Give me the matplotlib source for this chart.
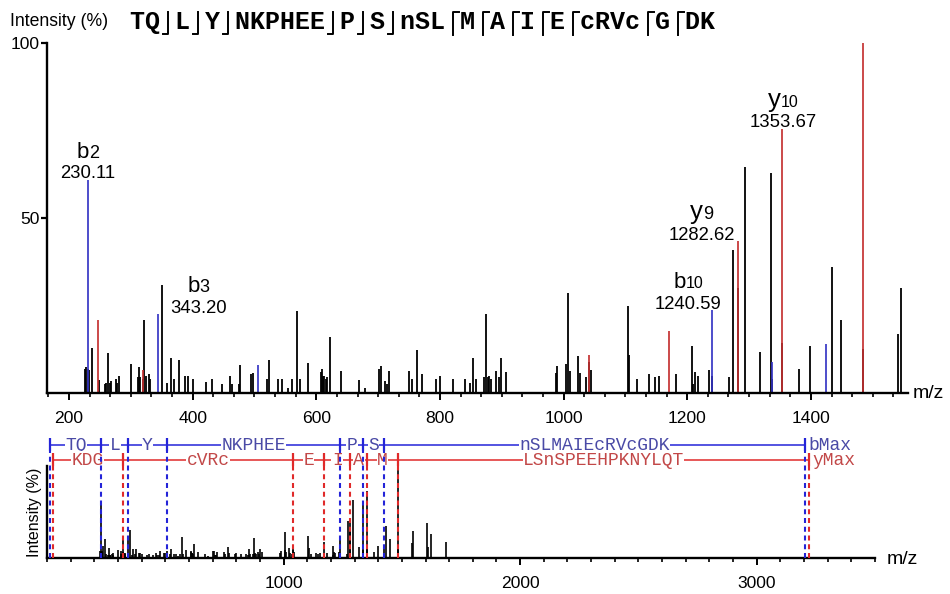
import matplotlib
matplotlib.use("Agg")
import matplotlib.pyplot as plt
from matplotlib.lines import Line2D
from matplotlib.offsetbox import TextArea, HPacker, VPacker, AnnotationBbox
from matplotlib.ticker import MultipleLocator, FixedLocator

plt.rcParams['font.family'] = ['Liberation Sans', 'DejaVu Sans']

# peptide sequence shown on top, split at the observed cleavages
header_tokens = ["TQ", "L", "Y", "NKPHEE", "P", "S", "nSL", "M", "A", "I", "E", "cRVc", "G", "DK"]
n_b_cuts = 6  # first 6 gaps are b-ion cuts, the rest y-ion cuts

# unassigned peaks (m/z, relative intensity %)
other_mz = [226, 228, 231, 233, 236.7, 249, 258, 260, 263.7, 266, 268, 276, 278, 281, 300, 311, 313, 315,
            319.2, 322, 324, 329, 331, 351, 358, 365, 370, 378, 387, 392, 400, 421, 431, 448, 461, 463, 475,
            477, 495, 498, 521, 523, 538, 544, 554, 561, 569, 574, 586.5, 607, 609, 611, 613, 615, 618, 622.6,
            640, 669.6, 679, 701, 705, 710.6, 715, 718, 749.5, 754, 763.6, 771, 793, 800, 821, 841, 849, 854,
            858.6, 871, 875, 877, 879, 882, 890, 895, 899, 907, 987, 990, 1004, 1006.5, 1011, 1024, 1026, 1036,
            1041.3, 1045, 1104, 1105.5, 1118, 1138, 1147, 1154, 1182, 1208, 1210, 1212.6, 1217.5, 1235, 1240.59,
            1266.7, 1274, 1282.62, 1293, 1317, 1334.7, 1337.6, 1353.67, 1381, 1398, 1434.5, 1448.6, 1484.7,
            1541, 1546, 1605, 1610, 1624, 1688]
other_int = [7, 7.5, 7, 6.5, 13, 3.7, 2.5, 3, 11.4, 3, 3.5, 4, 3, 5, 8.3, 4.5, 7.5, 4.5,
             4, 21, 5, 5.3, 4, 31, 3, 10, 4, 9.4, 5, 5, 4, 3.2, 4, 2.7, 5, 2.5, 2.5,
             8, 5.4, 5.6, 4, 9.4, 4, 4, 1.4, 4, 23.4, 4, 8.7, 6, 7, 5, 5, 4, 4.5, 16,
             6.3, 3.7, 1.5, 7, 7.6, 3.4, 2.5, 6.3, 6.3, 4, 12.3, 5.4, 4, 5, 4, 4, 2.8, 10,
             4, 4.5, 22.6, 4.5, 5, 4, 6.3, 4.5, 10, 6, 5.7, 7.6, 8.2, 28.5, 6.3, 10.6, 5.7, 4.5,
             9, 6.6, 25, 10.8, 4, 5.4, 4.5, 5, 5.4, 13.4, 2.5, 6, 5, 6.6, 5,
             4.5, 41, 30, 64.5, 11.8, 62.8, 4, 14.4, 6.8, 13.5, 36, 21, 12.6,
             17, 30, 39, 12, 27, 18]

# b ions (blue) and y ions (red)
b_mz = [230.11, 343.20, 506.3, 1240.59, 1337.6, 1424.7]
b_int = [61, 22.6, 8, 23.7, 8.8, 14]
y_mz = [246.4, 319.2, 1041.3, 1170.2, 1282.62, 1353.67, 1484.7]
y_int = [21, 6.6, 10.8, 17.8, 43.5, 75.6, 100]

# labelled ions: (series, index into series, ion number, horizontal shift in px)
labels = [("b", 0, "2", 0), ("b", 1, "3", 41), ("b", 3, "10", -24),
          ("y", 4, "9", -37), ("y", 5, "10", 1)]

# fragment map for the full-range panel
b_cuts = [14, 230.11, 343.20, 506.3, 1240.59, 1337.6, 1424.7, 3203]
b_pieces = ["TQ", "L", "Y", "NKPHEE", "P", "S", "nSLMAIEcRVcGDK"]
y_cuts = [24, 319.2, 1041.3, 1170.2, 1282.62, 1353.67, 1484.7, 3220]
y_pieces = ["KDG", "cVRc", "E", "I", "A", "M", "LSnSPEEHPKNYLQT"]

W, H = 950, 594
BLUE, RED = "#3434c4", "#c43030"
MAP_BLUE, MAP_RED = "#2424d8", "#e02a2a"
TXT_BLUE, TXT_RED = "#4a4aa6", "#c24848"

fig = plt.figure(figsize=(W / 100, H / 100), dpi=100)


def fx(x):
    return x / W


def fy(y):
    return 1 - y / H


# ---- top panel: zoomed spectrum ----
ax1 = fig.add_axes([fx(47), fy(393), fx(908 - 47), (393 - 43.3) / H])
ax1.vlines(other_mz, 0, other_int, colors="black", lw=1.3)
ax1.vlines(b_mz, 0, b_int, colors=BLUE, lw=1.4, alpha=0.88)
ax1.vlines(y_mz, 0, y_int, colors=RED, lw=1.4, alpha=0.88)
ax1.set_xlim(164.4, 1557)
ax1.set_ylim(0, 100)
for s in ("top", "right"):
    ax1.spines[s].set_visible(False)
for s in ("left", "bottom"):
    ax1.spines[s].set_linewidth(1.7)
ax1.set_yticks([50, 100])
ax1.tick_params(axis="y", direction="out", length=4.5, width=1.6, pad=0.5, labelsize=12.6)
ax1.xaxis.set_major_locator(MultipleLocator(200))
ax1.xaxis.set_minor_locator(MultipleLocator(200 / 6))
ax1.tick_params(axis="x", which="major", direction="out", length=5, width=1.4, pad=8, labelsize=12.6)
ax1.tick_params(axis="x", which="minor", direction="out", length=3, width=1.2)
ax1.set_xticks([200, 400, 600, 800, 1000, 1200, 1400])

for series, i, num, dx in labels:
    mz = b_mz[i] if series == "b" else y_mz[i]
    h = b_int[i] if series == "b" else y_int[i]
    letter = TextArea(series, textprops=dict(fontsize=16 if series == "b" else 18.5))
    number = TextArea(num, textprops=dict(fontsize=13 if len(num) == 1 else 11.5))
    ion = HPacker(children=[letter, number], align="baseline", pad=0, sep=0)
    value = TextArea(f"{mz:.2f}", textprops=dict(fontsize=13.3))
    box = VPacker(children=[ion, value], align="center", pad=0, sep=2)
    ab = AnnotationBbox(box, (mz, h), xybox=(dx * 0.72, -2.0), xycoords="data",
                        boxcoords="offset points", box_alignment=(0.5, 0), frameon=False)
    ax1.add_artist(ab)

fig.text(fx(10), fy(26), "Intensity (%)", fontsize=12.7, va="baseline", ha="left")
fig.text(fx(913), fy(394), "m/z", fontsize=14, va="center", ha="left")

# peptide header with cleavage marks
char_w = 0.6 * 18 * 100 / 72
x0 = 130
seq_text = " ".join(header_tokens)
fig.text(fx(x0), fy(28.5), seq_text, fontsize=18, family="Liberation Mono", weight="bold",
         va="baseline", ha="left")
pos = 0
for k, tok in enumerate(header_tokens[:-1]):
    pos += len(tok)
    cx = x0 + (pos + 0.5) * char_w
    if k < n_b_cuts:
        xs, ys = [cx - 5, cx, cx], [34, 34, 12]
    else:
        xs, ys = [cx + 6, cx, cx], [12, 12, 35]
    fig.add_artist(Line2D([fx(v) for v in xs], [fy(v) for v in ys], transform=fig.transFigure,
                          color="black", lw=1.4))
    pos += 1

# ---- bottom panel: full-range spectrum with fragment map ----
ax2 = fig.add_axes([fx(47), fy(557.7), fx(875 - 47), (557.7 - 425) / H])
ax2.vlines(other_mz + b_mz + y_mz, 0, other_int + b_int + y_int, colors="black", lw=1.2)
ax2.set_xlim(0, 3500)
ax2.set_ylim(0, (557.7 - 425) / 0.887)
for s in ("top", "right"):
    ax2.spines[s].set_visible(False)
for s in ("left", "bottom"):
    ax2.spines[s].set_linewidth(1.7)
ax2.spines["left"].set_bounds(0, 103)
ax2.set_yticks([])
ax2.xaxis.set_major_locator(FixedLocator([1000, 2000, 3000]))
ax2.xaxis.set_minor_locator(MultipleLocator(100))
ax2.tick_params(axis="x", which="major", direction="out", length=5, width=1.4, pad=8, labelsize=12.6)
ax2.tick_params(axis="x", which="minor", direction="out", length=3, width=1.2)

y_blue, y_red = 127, 110
ax2.hlines(y_blue, b_cuts[0], b_cuts[-1], colors=MAP_BLUE, lw=1.1, zorder=2)
ax2.hlines(y_red, y_cuts[0], y_cuts[-1], colors=MAP_RED, lw=1.1, zorder=2)
ax2.vlines(b_cuts, y_blue - 7, y_blue + 8, colors=MAP_BLUE, lw=1.6, zorder=4)
ax2.vlines(y_cuts, y_red - 7, y_red + 8, colors=MAP_RED, lw=1.6, zorder=4)
ax2.vlines(b_cuts, 0, y_blue - 7, colors=MAP_BLUE, lw=1.5, linestyles=(0, (2.4, 1.8)), zorder=4)
ax2.vlines(y_cuts, 0, y_red - 7, colors=MAP_RED, lw=1.5, linestyles=(0, (2.4, 1.8)), zorder=4)
mono = dict(family="Liberation Mono", fontsize=13, va="center", ha="center", zorder=3,
            bbox=dict(facecolor="white", edgecolor="none", pad=0.3))
for a, b, name in zip(b_cuts[:-1], b_cuts[1:], b_pieces):
    ax2.text((a + b) / 2, y_blue, name, color=TXT_BLUE, **mono)
for a, b, name in zip(y_cuts[:-1], y_cuts[1:], y_pieces):
    ax2.text((a + b) / 2, y_red, name, color=TXT_RED, **mono)
ax2.text(b_cuts[-1] + 15, y_blue, "bMax", color=TXT_BLUE, family="Liberation Mono", fontsize=13,
         va="center", ha="left")
ax2.text(y_cuts[-1] + 15, y_red, "yMax", color=TXT_RED, family="Liberation Mono", fontsize=13,
         va="center", ha="left")

fig.text(fx(35), fy(512), "Intensity (%)", fontsize=11.5, rotation=90, va="center", ha="center")
fig.text(fx(887), fy(559), "m/z", fontsize=14, va="center", ha="left")

fig.savefig("out.png", dpi=100)
